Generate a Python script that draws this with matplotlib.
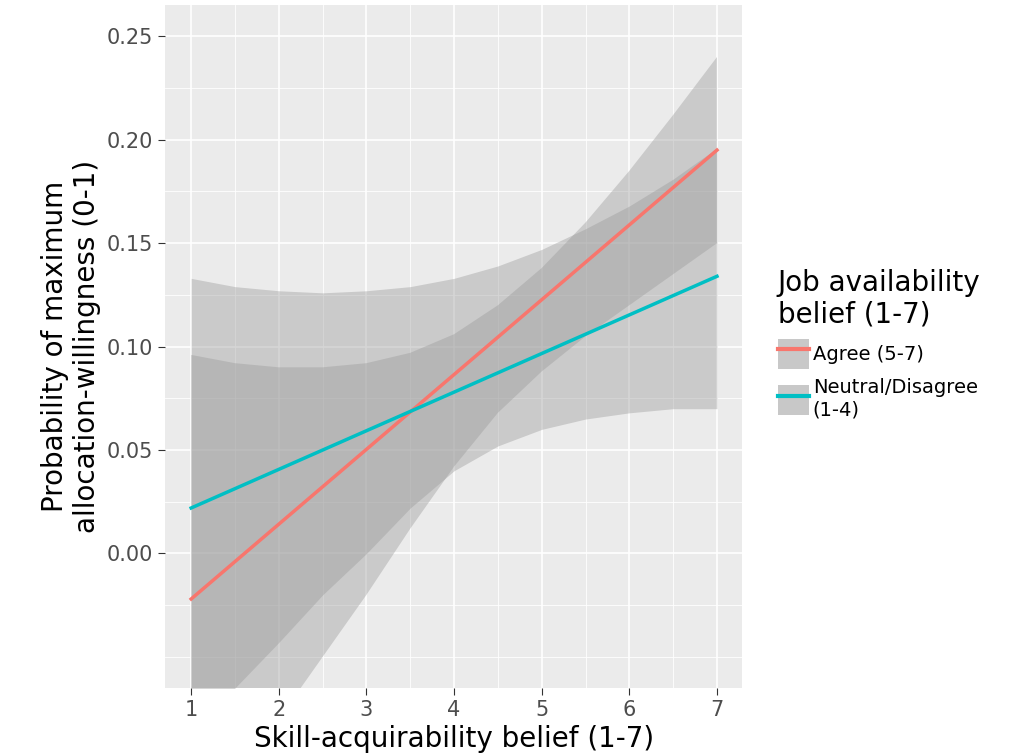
import matplotlib
matplotlib.use("Agg")
import matplotlib.pyplot as plt
import numpy as np
from matplotlib.lines import Line2D
from matplotlib.patches import Patch

x = [1, 7]
agree_fit = [-0.022, 0.195]
neutral_fit = [0.022, 0.134]
xb = [1, 1.5, 2, 2.5, 3, 3.5, 4, 4.5, 5, 5.5, 6, 6.5, 7]
agree_lo = [-0.14, -0.11, -0.08, -0.05, -0.02, 0.012, 0.042, 0.068, 0.088, 0.105, 0.12, 0.135, 0.15]
agree_hi = [0.096, 0.092, 0.09, 0.09, 0.092, 0.097, 0.106, 0.12, 0.138, 0.16, 0.185, 0.212, 0.24]
neutral_lo = [-0.09, -0.065, -0.043, -0.02, 0.0, 0.022, 0.04, 0.052, 0.06, 0.065, 0.068, 0.07, 0.07]
neutral_hi = [0.133, 0.129, 0.127, 0.126, 0.127, 0.129, 0.133, 0.139, 0.147, 0.157, 0.168, 0.181, 0.196]

fig = plt.figure(figsize=(10.24, 7.56), dpi=100)
ax = fig.add_axes([0.161, 0.09, 0.564, 0.903])
ax.set_facecolor("#EBEBEB")
for s in ax.spines.values():
    s.set_visible(False)

band = "#999999"
ax.fill_between(xb, agree_lo, agree_hi, color=band, alpha=0.4, lw=0, zorder=2)
ax.fill_between(xb, neutral_lo, neutral_hi, color=band, alpha=0.4, lw=0, zorder=2)
ax.plot(x, agree_fit, color="#F8766D", lw=2.5, zorder=3)
ax.plot(x, neutral_fit, color="#00BFC4", lw=2.5, zorder=3)

ax.set_xlim(0.70, 7.29)
ax.set_ylim(-0.065, 0.265)
ax.set_xticks(range(1, 8))
ax.set_xticks(np.arange(1.5, 7.0, 1), minor=True)
ax.set_yticks([0.0, 0.05, 0.10, 0.15, 0.20, 0.25])
ax.set_yticklabels(["0.00", "0.05", "0.10", "0.15", "0.20", "0.25"])
ax.set_yticks([-0.05, -0.025, 0.025, 0.075, 0.125, 0.175, 0.225], minor=True)
ax.grid(which="major", color="white", lw=1.2, zorder=0)
ax.grid(which="minor", color="white", lw=0.6, zorder=0)
ax.set_axisbelow(True)
ax.tick_params(which="major", labelsize=15, colors="#4D4D4D", length=5, color="#333333")
ax.tick_params(which="minor", length=0)
ax.set_xlabel("Skill-acquirability belief (1-7)", fontsize=20)
ax.set_ylabel("Probability of maximum\nallocation-willingness (0-1)", fontsize=20)

handles = [
    (Patch(facecolor="#C8C8C8", edgecolor="none"), Line2D([], [], color="#F8766D", lw=3)),
    (Patch(facecolor="#C8C8C8", edgecolor="none"), Line2D([], [], color="#00BFC4", lw=3)),
]
leg = fig.legend(handles, ["Agree (5-7)", "Neutral/Disagree\n(1-4)"],
                 title="Job availability\nbelief (1-7)", loc="upper left",
                 bbox_to_anchor=(0.752, 0.655), frameon=False, fontsize=14,
                 title_fontsize=20, handlelength=1.6, handleheight=2.0,
                 handletextpad=0.2, borderaxespad=0)
leg._legend_box.align = "left"
fig.savefig("out.png", dpi=100)
